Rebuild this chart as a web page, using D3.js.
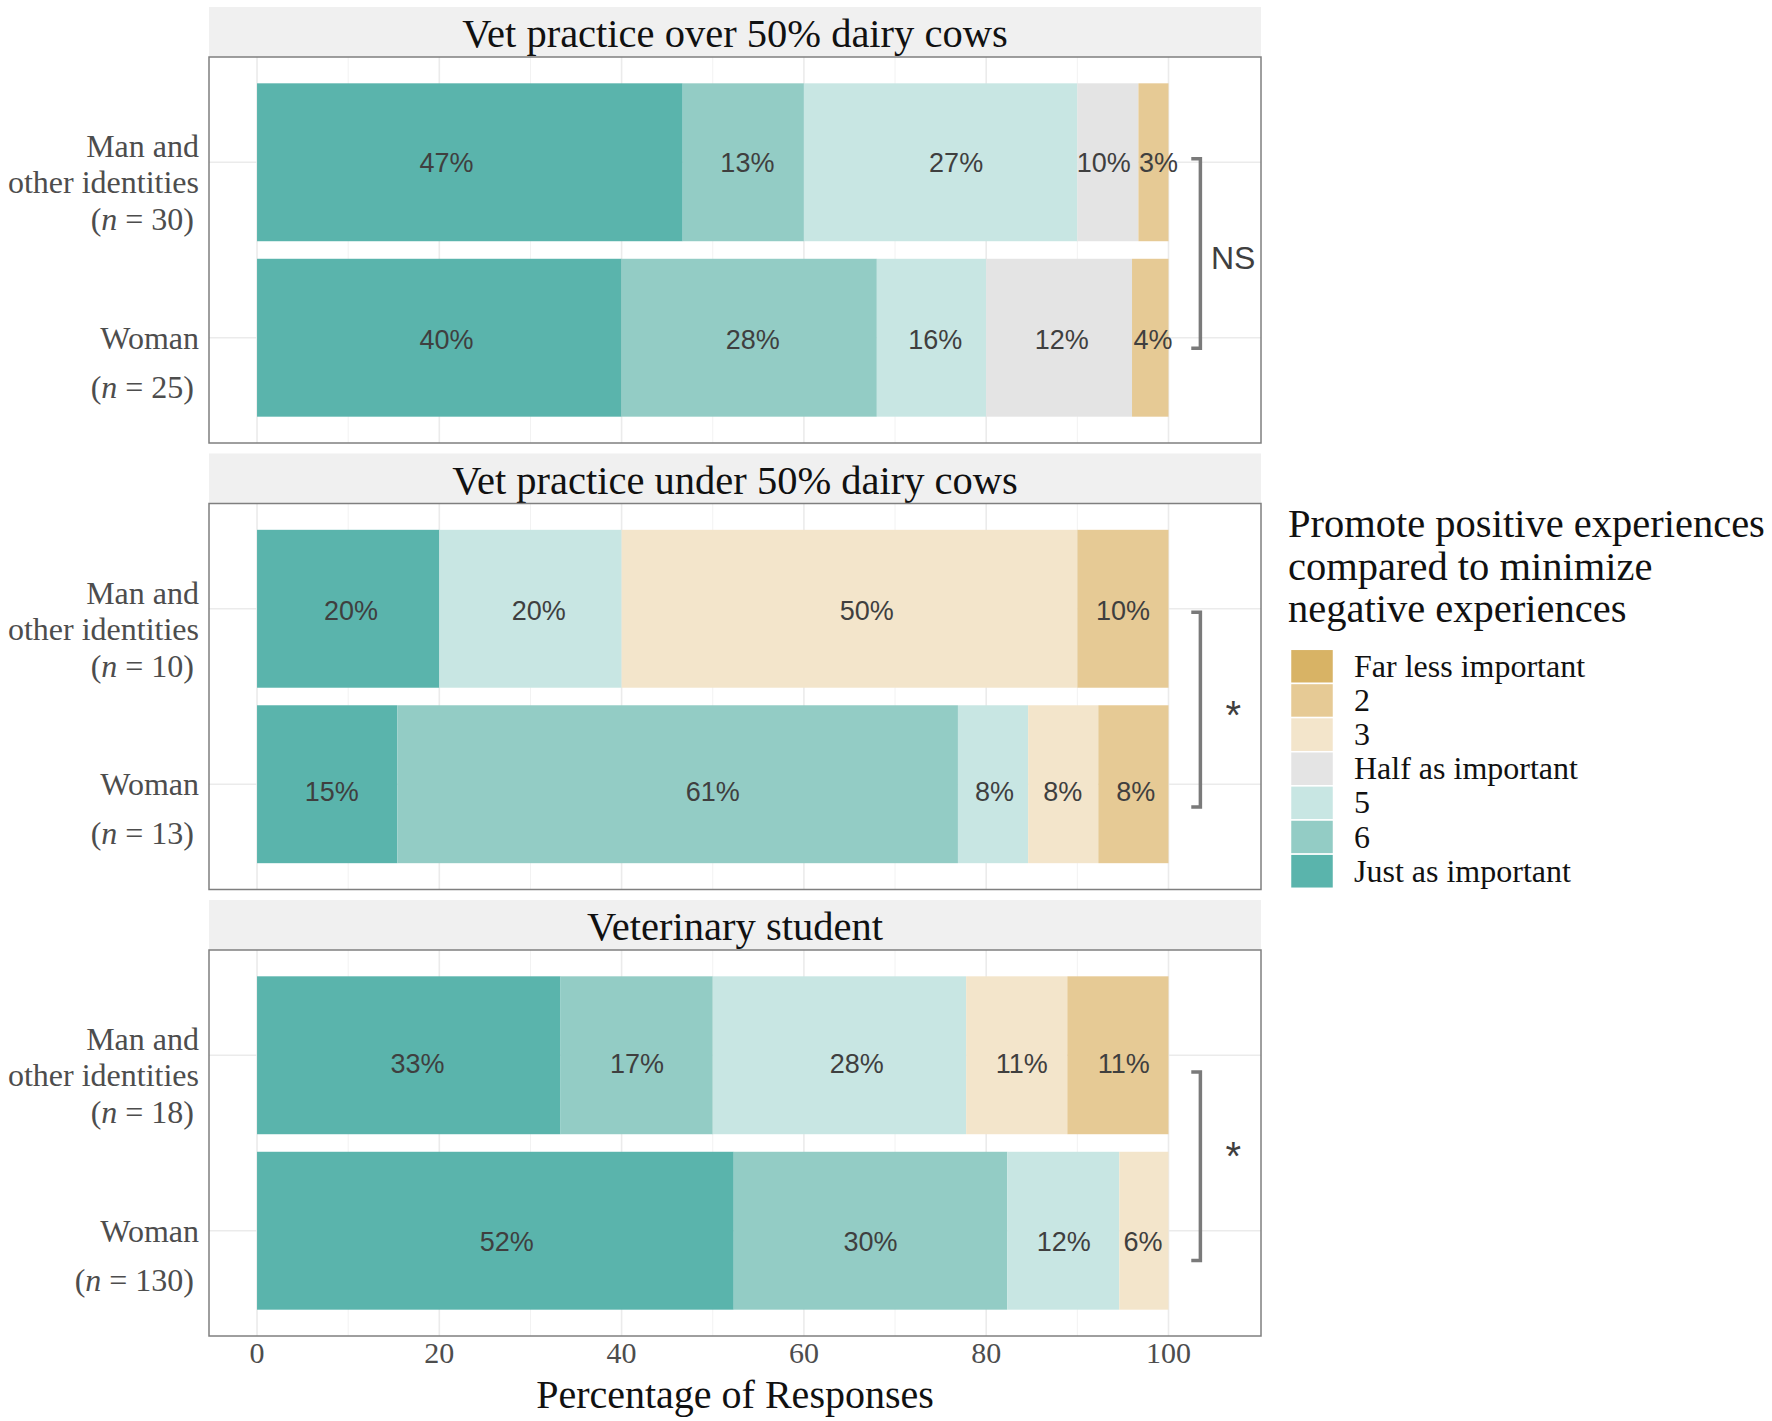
<!DOCTYPE html>
<html>
<head>
<meta charset="utf-8">
<script src="https://cdn.jsdelivr.net/npm/d3@7"></script>
<style>
body { margin: 0; background: #fff; }
svg { display: block; }
</style>
</head>
<body>
<script>
// facets, groups and answer levels
var facets = ["Vet practice over 50% dairy cows", "Vet practice under 50% dairy cows", "Veterinary student"];
var groups = ["Man and other identities", "Woman"];
var nMan = [30, 10, 18];
var nWoman = [25, 13, 130];
var levels = ["Just as important", "6", "5", "Half as important", "3", "2", "Far less important"];
var levelColors = ["#5ab4ac", "#93ccc5", "#c8e6e3", "#e4e4e4", "#f3e5cb", "#e6ca95", "#d8b365"];

// bar shares per level (same order as levels), one row per facet
var manPct = [
  [46.7, 13.3, 30.0, 6.7, 0, 3.3, 0],
  [20, 0, 20, 0, 50, 10, 0],
  [33.3, 16.7, 27.8, 0, 11.1, 11.1, 0]
];
var womanPct = [
  [40, 28, 12, 16, 0, 4, 0],
  [15.4, 61.5, 7.7, 0, 7.7, 7.7, 0],
  [52.3, 30.0, 12.3, 0, 5.4, 0, 0]
];

// printed labels and where they sit (x in percent units, drop in group units)
var manLabels = [["47%", "13%", "27%", "10%", "3%"], ["20%", "20%", "50%", "10%"], ["33%", "17%", "28%", "11%", "11%"]];
var manLabelAt = [[20.8, 53.8, 76.7, 92.9, 98.9], [10.3, 30.9, 66.9, 95.0], [17.6, 41.7, 65.8, 83.9, 95.1]];
var manLabelDrop = [0, 0.011, 0.048];
var womanLabels = [["40%", "28%", "16%", "12%", "4%"], ["15%", "61%", "8%", "8%", "8%"], ["52%", "30%", "12%", "6%"]];
var womanLabelAt = [[20.8, 54.4, 74.4, 88.3, 98.3], [8.2, 50.0, 80.9, 88.4, 96.4], [27.4, 67.3, 88.5, 97.2]];
var womanLabelDrop = [0.011, 0.043, 0.059];

// significance brackets (y in group units: Man = 2, Woman = 1)
var tests = ["NS", "*", "*"];
var bracketFrom = [2.02, 1.98, 1.905];
var bracketTo = [0.94, 0.87, 0.83];
var testAt = [1.455, 1.454, 1.483];

var xTicks = [0, 20, 40, 60, 80, 100];
var legendTitle = ["Promote positive experiences", "compared to minimize", "negative experiences"];

var w = 1772, h = 1421;
var left = 209, right = 1261;
var panelTop0 = 57, panelH = 386, panelStep = 446.5, stripH = 50;
var serif = "'Liberation Serif', 'Times New Roman', serif";
var sans = "'Liberation Sans', Arial, sans-serif";

var svg = d3.select("body").append("svg")
  .attr("width", w)
  .attr("height", h);

var x = d3.scaleLinear().domain([-5.27, 110.15]).range([left, right]);

facets.forEach(function(facet, f) {
  var top = panelTop0 + f * panelStep;
  var y = d3.scaleLinear().domain([2.6, 0.4]).range([top, top + panelH]);
  var bandH = y(1) - y(1.9);
  var g = svg.append("g");

  // strip
  g.append("rect")
    .attr("x", left).attr("y", top - stripH)
    .attr("width", right - left).attr("height", stripH)
    .attr("fill", "#f0f0f0");
  g.append("text")
    .attr("x", (left + right) / 2).attr("y", top - stripH + 40)
    .attr("text-anchor", "middle")
    .attr("font-family", serif).attr("font-size", 40.5)
    .attr("fill", "#111")
    .text(facet);

  // grid
  var minor = d3.range(10, 100, 20);
  g.selectAll(".minor").data(minor).enter().append("line")
    .attr("x1", function(d) { return x(d); }).attr("x2", function(d) { return x(d); })
    .attr("y1", top).attr("y2", top + panelH)
    .attr("stroke", "#f2f2f2").attr("stroke-width", 1);
  g.selectAll(".major").data(xTicks).enter().append("line")
    .attr("x1", function(d) { return x(d); }).attr("x2", function(d) { return x(d); })
    .attr("y1", top).attr("y2", top + panelH)
    .attr("stroke", "#ebebeb").attr("stroke-width", 1.6);
  g.selectAll(".hgrid").data([2, 1]).enter().append("line")
    .attr("x1", left).attr("x2", right)
    .attr("y1", function(d) { return y(d); }).attr("y2", function(d) { return y(d); })
    .attr("stroke", "#ebebeb").attr("stroke-width", 1.6);

  // stacked bars
  [manPct[f], womanPct[f]].forEach(function(vals, r) {
    var yc = y(2 - r);
    var cum = 0;
    var segs = vals.map(function(v, i) {
      var s = { x0: cum, x1: cum + v, level: i };
      cum += v;
      return s;
    }).filter(function(s) { return s.x1 > s.x0; });
    g.selectAll(".seg" + r).data(segs).enter().append("rect")
      .attr("x", function(d) { return x(d.x0); })
      .attr("width", function(d) { return x(d.x1) - x(d.x0); })
      .attr("y", yc - bandH / 2)
      .attr("height", bandH)
      .attr("fill", function(d) { return levelColors[d.level]; });

    var labs = r === 0 ? manLabels[f] : womanLabels[f];
    var at = r === 0 ? manLabelAt[f] : womanLabelAt[f];
    var drop = r === 0 ? manLabelDrop[f] : womanLabelDrop[f];
    g.selectAll(".lab" + r).data(labs).enter().append("text")
      .attr("x", function(d, i) { return x(at[i]); })
      .attr("y", y(2 - r - drop))
      .attr("dy", "0.36em")
      .attr("text-anchor", "middle")
      .attr("font-family", sans).attr("font-size", 27)
      .attr("fill", "#3f3f3f")
      .text(function(d) { return d; });
  });

  // panel border
  g.append("rect")
    .attr("x", left).attr("y", top)
    .attr("width", right - left).attr("height", panelH)
    .attr("fill", "none").attr("stroke", "#7f7f7f").attr("stroke-width", 1.5);

  // bracket
  var bx = x(103.5), tx = x(102.5);
  g.append("path")
    .attr("d", "M" + tx + "," + y(bracketFrom[f]) + "H" + bx + "V" + y(bracketTo[f]) + "H" + tx)
    .attr("fill", "none").attr("stroke", "#7a7a7a").attr("stroke-width", 3.5);
  var star = tests[f] === "*";
  g.append("text")
    .attr("x", x(107.1)).attr("y", y(testAt[f]))
    .attr("dy", star ? "0.6em" : "0.36em")
    .attr("text-anchor", "middle")
    .attr("font-family", sans).attr("font-size", star ? 40 : 32)
    .attr("fill", "#3f3f3f")
    .text(tests[f]);

  // y axis labels
  var manRow = y(2), womanRow = y(1);
  var ytxt = g.append("g")
    .attr("font-family", serif).attr("font-size", 32)
    .attr("fill", "#4d4d4d").attr("text-anchor", "end");
  var nameParts = groups[0].split(" ");
  ytxt.append("text").attr("x", 199).attr("y", manRow - 5).text(nameParts.slice(0, 2).join(" "));
  ytxt.append("text").attr("x", 199).attr("y", manRow + 31).text(nameParts.slice(2).join(" "));
  ytxt.append("text").attr("x", 199).attr("y", womanRow + 11).text(groups[1]);
  [[manRow + 68, nMan[f]], [womanRow + 60, nWoman[f]]].forEach(function(p) {
    var t = ytxt.append("text").attr("x", 194).attr("y", p[0]);
    t.append("tspan").text("(");
    t.append("tspan").attr("font-style", "italic").text("n");
    t.append("tspan").text(" = " + p[1] + ")");
  });
});

// x axis
var lastBottom = panelTop0 + 2 * panelStep + panelH;
svg.append("g").selectAll("text").data(xTicks).enter().append("text")
  .attr("x", function(d) { return x(d); })
  .attr("y", lastBottom + 27)
  .attr("text-anchor", "middle")
  .attr("font-family", serif).attr("font-size", 30)
  .attr("fill", "#4d4d4d")
  .text(function(d) { return d; });
svg.append("text")
  .attr("x", (left + right) / 2).attr("y", 1408)
  .attr("text-anchor", "middle")
  .attr("font-family", serif).attr("font-size", 40)
  .attr("fill", "#111")
  .text("Percentage of Responses");

// legend
var lg = svg.append("g");
lg.selectAll(".lt").data(legendTitle).enter().append("text")
  .attr("x", 1288).attr("y", function(d, i) { return 537 + i * 42.5; })
  .attr("font-family", serif).attr("font-size", 40.5)
  .attr("fill", "#111")
  .text(function(d) { return d; });
var keyTop = 649.3, keyH = 34.14;
var legendOrder = levels.slice().reverse();
lg.selectAll(".key").data(legendOrder).enter().append("rect")
  .attr("x", 1290.5).attr("y", function(d, i) { return keyTop + i * keyH; })
  .attr("width", 43).attr("height", keyH)
  .attr("fill", function(d) { return levelColors[levels.indexOf(d)]; })
  .attr("stroke", "#fff").attr("stroke-width", 1.5);
lg.selectAll(".kl").data(legendOrder).enter().append("text")
  .attr("x", 1354).attr("y", function(d, i) { return keyTop + (i + 0.5) * keyH; })
  .attr("dy", "0.33em")
  .attr("font-family", serif).attr("font-size", 32)
  .attr("fill", "#111")
  .text(function(d) { return d; });
</script>
</body>
</html>
